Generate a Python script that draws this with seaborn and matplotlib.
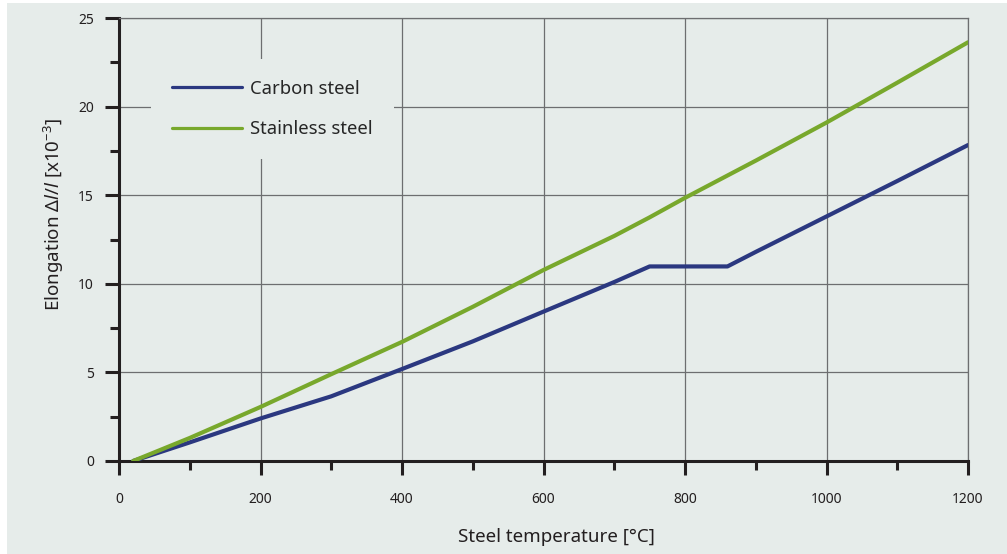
import numpy as np
import pandas as pd
import matplotlib
matplotlib.use("Agg")
import matplotlib.pyplot as plt
from matplotlib.patches import Rectangle
from matplotlib.ticker import MultipleLocator
import seaborn as sns

# values
CARBON_T = [20, 100, 200, 300, 400, 500, 600, 700, 750, 860, 900, 1000, 1100, 1200]
CARBON_E = [0.0, 1.05, 2.4, 3.65, 5.19, 6.75, 8.43, 10.1, 10.98, 10.98, 11.8, 13.8, 15.8, 17.83]
STAINLESS_T = [20, 100, 200, 300, 400, 500, 600, 700, 750, 800, 900, 1000, 1100, 1200]
STAINLESS_E = [0.0, 1.3, 3.05, 4.9, 6.72, 8.7, 10.78, 12.7, 13.75, 14.85, 16.95, 19.1, 21.35, 23.63]
SERIES = ["Carbon steel", "Stainless steel"]
COLORS = {"Carbon steel": "#2b3880", "Stainless steel": "#78a82c"}

BG = "#e6ecea"
INK = "#231f20"
GRID = "#6d6e70"

sns.set_style("white")
plt.rcParams["font.family"] = ["Noto Sans", "DejaVu Sans"]
plt.rcParams["mathtext.fontset"] = "custom"
plt.rcParams["mathtext.rm"] = "Noto Sans"
plt.rcParams["mathtext.it"] = "Noto Sans:italic"


def main():
    df = pd.concat([
        pd.DataFrame({"temp": CARBON_T, "elong": CARBON_E, "steel": SERIES[0]}),
        pd.DataFrame({"temp": STAINLESS_T, "elong": STAINLESS_E, "steel": SERIES[1]}),
    ], ignore_index=True)

    fig = plt.figure(figsize=(10.07, 5.54), dpi=100, facecolor="white")
    fig.patches.append(Rectangle((7 / 1007, 0), 1, 551 / 554, transform=fig.transFigure,
                                 facecolor=BG, edgecolor="none", zorder=-10))
    ax = fig.add_axes([119 / 1007, 93 / 554, 849 / 1007, 443 / 554])
    ax.set_facecolor(BG)

    sns.lineplot(data=df, x="temp", y="elong", hue="steel", palette=COLORS,
                 hue_order=SERIES, estimator=None, sort=False, linewidth=3,
                 ax=ax, zorder=3)

    ax.set_xlim(0, 1200)
    ax.set_ylim(0, 25)
    ax.xaxis.set_major_locator(MultipleLocator(200))
    ax.xaxis.set_minor_locator(MultipleLocator(100))
    ax.yaxis.set_major_locator(MultipleLocator(5))
    ax.yaxis.set_minor_locator(MultipleLocator(2.5))
    ax.grid(True, which="major", color=GRID, linewidth=0.9)

    for side in ["left", "bottom"]:
        ax.spines[side].set_color(INK)
        ax.spines[side].set_linewidth(2.2)
    for side in ["top", "right"]:
        ax.spines[side].set_color(GRID)
        ax.spines[side].set_linewidth(0.9)

    # seaborn's white style switches the tick marks off
    ax.tick_params(which="both", bottom=True, left=True, top=False, right=False)
    ax.tick_params(which="major", direction="out", length=10, width=2.2, color=INK,
                   labelcolor=INK, labelsize=10,
                   labelfontfamily=["Liberation Sans Narrow", "Noto Sans"])
    ax.tick_params(which="minor", direction="out", length=6.5, width=2.2, color=INK)
    ax.tick_params(axis="x", which="major", pad=12)
    ax.tick_params(axis="y", which="major", pad=8)

    ax.set_xlabel("Steel temperature [°C]", fontsize=13.5, color=INK)
    ax.set_ylabel(r"Elongation $\Delta\mathit{l/l}$ [x10$^{-3}$]", fontsize=13.5, color=INK)
    ax.xaxis.set_label_coords(0.515, -0.151)
    ax.yaxis.set_label_coords(-0.0624, 0.556)

    leg = ax.legend(loc="upper left", bbox_to_anchor=(0.0377, 0.9075), fontsize=13.3,
                    frameon=True, facecolor=BG, edgecolor="none", framealpha=1,
                    fancybox=False, handlelength=3.8, handletextpad=0.45,
                    labelspacing=1.2, borderpad=1.13, borderaxespad=0)
    for line in leg.get_lines():
        line.set_linewidth(2.3)
    leg.set_zorder(4)

    fig.savefig("out.png", dpi=100, facecolor="white")
    plt.close(fig)


if __name__ == "__main__":
    main()
